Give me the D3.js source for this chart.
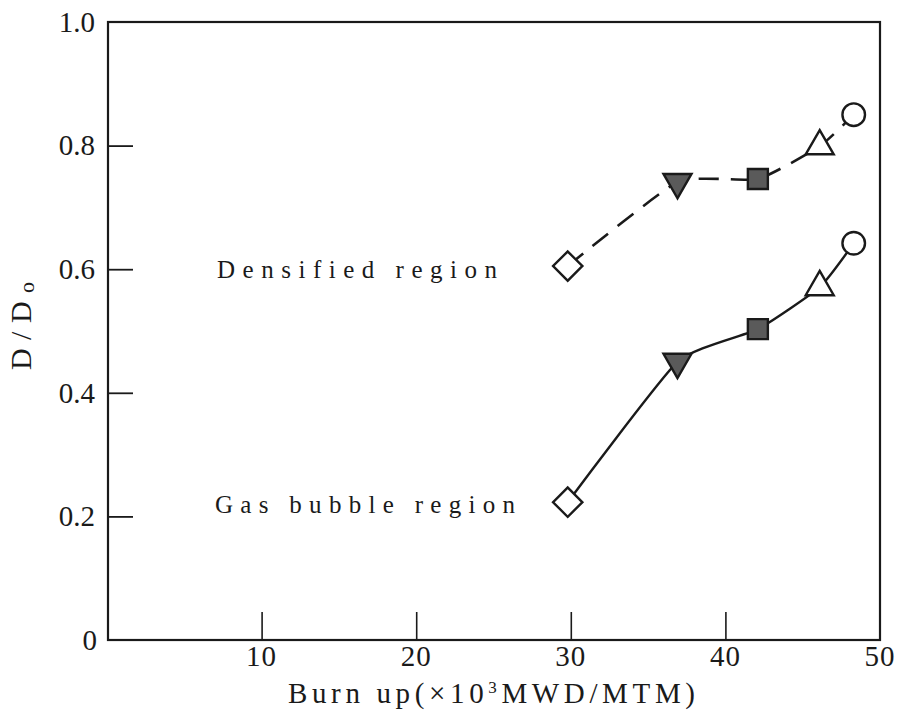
<!DOCTYPE html>
<html><head><meta charset="utf-8">
<script src="https://cdn.jsdelivr.net/npm/d3@7"></script>
<style>body{margin:0;background:#fff}svg{display:block}text{font-family:"Liberation Serif","DejaVu Serif",serif;fill:#1a1a1a}</style>
</head><body><svg id="c" width="899" height="725"></svg>
<script>
const burnup = [29.8, 36.9, 42.1, 46.1, 48.3];
const densified = [0.605, 0.741, 0.746, 0.799, 0.850];
const gasBubble = [0.223, 0.450, 0.503, 0.571, 0.642];
const markerTypes = ["diamond", "triangleDown", "square", "triangleUp", "circle"];
const markerFilled = [false, true, true, false, false];
const xTicks = [10, 20, 30, 40, 50];
const yTicks = [0, 0.2, 0.4, 0.6, 0.8, 1.0];
const yTickLabels = ["0", "0.2", "0.4", "0.6", "0.8", "1.0"];

const svg = d3.select("#c");
const x = d3.scaleLinear().domain([0, 50]).range([107, 880]);
const y = d3.scaleLinear().domain([0, 1]).range([640, 22]);

// frame
svg.append("rect").attr("x", x(0)+1).attr("y", y(1)).attr("width", x(50)-x(0)-1).attr("height", y(0)-y(1))
  .attr("fill", "none").attr("stroke", "#1a1a1a").attr("stroke-width", 2.2);

// y ticks inward
const yAxis = d3.axisRight(y).tickValues(yTicks.slice(1, 5)).tickSize(25).tickFormat("");
svg.append("g").attr("transform", `translate(${x(0)+1},0)`).call(yAxis)
  .call(g => g.select(".domain").remove())
  .call(g => g.selectAll("line").attr("stroke", "#1a1a1a").attr("stroke-width", 1.8));
svg.append("g").selectAll("text").data(yTicks).join("text")
  .attr("x", (d,i) => i === 0 ? 97 : 95).attr("y", d => y(d)).attr("dy", "0.34em").attr("text-anchor", "end")
  .attr("font-size", 29).text((d,i) => yTickLabels[i]);

// x ticks inward (upward)
const xAxis = d3.axisTop(x).tickValues(xTicks.slice(0, 4)).tickSize(28).tickFormat("");
svg.append("g").attr("transform", `translate(0,${y(0)})`).call(xAxis)
  .call(g => g.select(".domain").remove())
  .call(g => g.selectAll("line").attr("stroke", "#1a1a1a").attr("stroke-width", 1.6));
svg.append("g").selectAll("text").data(xTicks).join("text")
  .attr("x", d => x(d)).attr("y", 666).attr("text-anchor", "middle")
  .attr("font-size", 29).attr("letter-spacing", 1).text(d => d);

// axis titles
svg.append("text").attr("x", 288).attr("y", 703).attr("font-size", 29)
  .attr("textLength", 407).attr("lengthAdjust", "spacing")
  .html('Burn up(×10<tspan dy="-10" font-size="17">3</tspan><tspan dy="10">MWD/MTM)</tspan>');
svg.append("text").attr("transform", "translate(31,370) rotate(-90)").attr("font-size", 30)
  .attr("textLength", 88).attr("lengthAdjust", "spacing")
  .html('D/D<tspan dy="3" font-size="22">o</tspan>');

// series lines
const pts = vals => burnup.map((b,i) => [x(b), y(vals[i])]);
const line = d3.line().curve(d3.curveCardinal.tension(0.5));
svg.append("path").attr("d", line(pts(densified))).attr("fill", "none").attr("stroke", "#1a1a1a")
  .attr("stroke-width", 2.6).attr("stroke-dasharray", "20,12");
svg.append("path").attr("d", line(pts(gasBubble))).attr("fill", "none").attr("stroke", "#1a1a1a")
  .attr("stroke-width", 2.4);

// markers
const symMap = {
  diamond: d3.symbol().type(d3.symbolSquare).size(430),
  square: d3.symbol().type(d3.symbolSquare).size(400),
  triangleDown: d3.symbol().type(d3.symbolTriangle).size(340),
  triangleUp: d3.symbol().type(d3.symbolTriangle).size(340),
  circle: d3.symbol().type(d3.symbolCircle).size(400)
};
const rot = {diamond: 45, square: 0, triangleDown: 180, triangleUp: 0, circle: 0};
[densified, gasBubble].forEach(vals => {
  svg.append("g").selectAll("path").data(vals).join("path")
    .attr("d", (d,i) => symMap[markerTypes[i]]())
    .attr("transform", (d,i) => `translate(${x(burnup[i])},${y(d)}) rotate(${rot[markerTypes[i]]})`)
    .attr("fill", (d,i) => markerFilled[i] ? "#5a5a5a" : "#fff")
    .attr("stroke", "#1a1a1a").attr("stroke-width", 2.4);
});

// labels
svg.append("text").attr("x", 217).attr("y", 278).attr("font-size", 25)
  .attr("textLength", 280).attr("lengthAdjust", "spacing").text("Densified region");
svg.append("text").attr("x", 215).attr("y", 513).attr("font-size", 25)
  .attr("textLength", 300).attr("lengthAdjust", "spacing").text("Gas bubble region");
</script></body></html>
